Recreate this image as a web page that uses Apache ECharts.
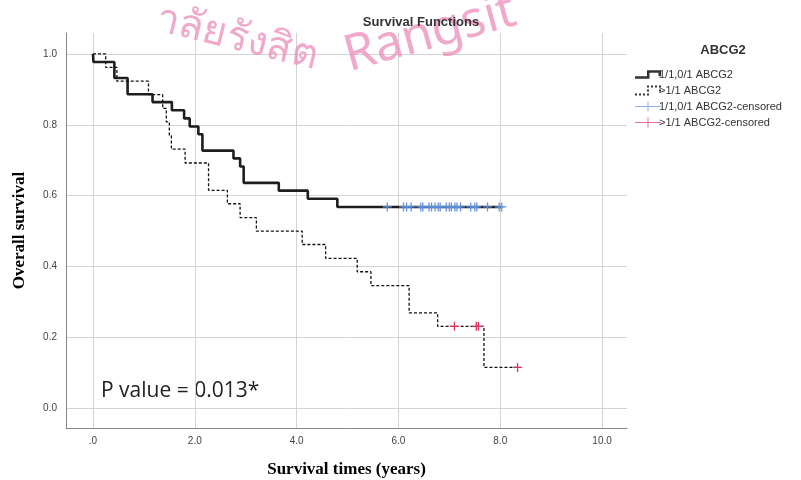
<!DOCTYPE html>
<html lang="en">
  <head>
    <meta charset="UTF-8">
    <title>Survival Functions</title>
    <style>
      html, body { margin: 0; padding: 0; background: #fff; }
      #chart { width: 801px; height: 480px; }
    </style>
  </head>
  <body>
    <div id="chart"></div>
  </body>
  <script src="https://cdn.jsdelivr.net/npm/echarts@6/dist/echarts.min.js"></script>
  <script>
    // 1/1,0/1 ABCG2 (solid)
    const timesA = [0, 0.01, 0.42, 0.68, 1.17, 1.55, 1.79, 1.90, 2.07, 2.15, 2.76, 2.89, 2.96, 3.65, 4.22, 4.80, 8.03]
    const survA = [1, 0.977, 0.932, 0.886, 0.864, 0.841, 0.818, 0.795, 0.773, 0.727, 0.705, 0.682, 0.636, 0.614, 0.591, 0.568, 0.568]
    const censorTimesA = [5.78, 6.10, 6.16, 6.25, 6.44, 6.48, 6.60, 6.65, 6.72, 6.78, 6.82, 6.94, 7.00, 7.04, 7.11, 7.15, 7.22, 7.42, 7.50, 7.54, 7.75, 7.98, 8.03]
    const censorSurvA = 0.568

    // >1/1 ABCG2 (dashed)
    const timesB = [0, 0.25, 0.47, 1.09, 1.37, 1.44, 1.50, 1.54, 1.81, 2.27, 2.64, 2.89, 3.21, 4.11, 4.57, 5.19, 5.46, 6.21, 6.77, 7.68, 8.34]
    const survB = [1, 0.962, 0.923, 0.885, 0.846, 0.808, 0.769, 0.731, 0.692, 0.615, 0.577, 0.538, 0.5, 0.462, 0.423, 0.385, 0.346, 0.269, 0.231, 0.115, 0.115]
    const censorTimesB = [7.10, 7.53, 7.57, 8.34]
    const censorSurvB = [0.231, 0.231, 0.231, 0.115]

    const xTicks = [0, 2, 4, 6, 8, 10]
    const yTicks = [0, 0.2, 0.4, 0.6, 0.8, 1.0]

    const names = ['1/1,0/1 ABCG2', '>1/1 ABCG2', '1/1,0/1 ABCG2-censored', '>1/1 ABCG2-censored']

    const cross = 'path://M4.3,0h1.4v10h-1.4zM0,4.3h10v1.4h-10z'
    const stepIcon = 'path://M0,7.5h12v-6h14v6h-2.5v-3.5h-9v6h-14.5z'
    const dotIcon = 'path://M0,8h2v2h-2zM4,8h2v2h-2zM8,8h2v2h-2zM12,8h2v2h-2zM12,4h2v2h-2zM12,0h2v2h-2zM16,0h2v2h-2zM20,0h2v2h-2zM24,0h2v2h-2zM24,4h2v2h-2z'
    const censorIcon = 'path://M0,4.5h26v1h-26zM12.5,0h1v10h-1z'

    const chart = echarts.init(document.getElementById('chart'))
    chart.setOption({
      animation: false,
      textStyle: { fontFamily: 'Liberation Sans, Arial, sans-serif' },
      title: [
        {
          text: 'Survival Functions',
          left: 416, top: 11, textAlign: 'center', z: 20,
          textStyle: { fontSize: 13, fontWeight: 'bold', color: '#333' }
        },
        {
          text: 'ABCG2',
          left: 718, top: 39, textAlign: 'center',
          textStyle: { fontSize: 13, fontWeight: 'bold', color: '#333' }
        }
      ],
      legend: {
        orient: 'vertical',
        left: 630, top: 64,
        itemWidth: 26, itemHeight: 10,
        itemGap: 5,
        textStyle: { fontSize: 11, color: '#333', padding: [0, 0, 0, -7] },
        itemStyle: { borderWidth: 0 },
        data: [
          { name: names[0], icon: stepIcon, itemStyle: { color: '#333' } },
          { name: names[1], icon: dotIcon, itemStyle: { color: '#333' } },
          { name: names[2], icon: censorIcon, itemStyle: { color: '#8fb4ea' } },
          { name: names[3], icon: censorIcon, itemStyle: { color: '#e0708f' } }
        ]
      },
      grid: { left: 66, right: 174, top: 33, bottom: 52, outerBoundsMode: 'none', containLabel: false },
      xAxis: {
        type: 'value',
        min: -0.53, max: 10.49,
        name: 'Survival times (years)',
        nameLocation: 'middle',
        nameGap: 33,
        nameTextStyle: { fontFamily: 'Liberation Serif', fontWeight: 'bold', fontSize: 17, color: '#000' },
        axisLine: { onZero: false, lineStyle: { color: '#888' } },
        axisTick: { show: false, customValues: xTicks },
        axisLabel: {
          customValues: xTicks,
          fontSize: 10, color: '#444', margin: 8,
          formatter: v => v === 0 ? '.0' : v.toFixed(1)
        },
        splitLine: { show: true, lineStyle: { color: '#d4d4d4' } }
      },
      yAxis: {
        type: 'value',
        min: -0.056, max: 1.059,
        name: 'Overall survival',
        nameLocation: 'middle',
        nameGap: 38,
        nameTextStyle: { fontFamily: 'Liberation Serif', fontWeight: 'bold', fontSize: 17, color: '#000' },
        axisLine: { show: true, onZero: false, lineStyle: { color: '#888' } },
        axisTick: { show: false, customValues: yTicks },
        axisLabel: {
          customValues: yTicks,
          fontSize: 10, color: '#444', margin: 9,
          formatter: v => v.toFixed(1)
        },
        splitLine: { show: true, lineStyle: { color: '#d4d4d4' } }
      },
      series: [
        {
          name: names[0],
          type: 'line',
          step: 'end',
          symbol: 'none',
          showSymbol: false,
          itemStyle: { color: '#333' },
          lineStyle: { color: '#1e1e1e', width: 2.6 },
          data: timesA.map((t, i) => [t, survA[i]]),
          z: 2
        },
        {
          name: names[1],
          type: 'line',
          step: 'end',
          symbol: 'none',
          showSymbol: false,
          itemStyle: { color: '#333' },
          lineStyle: { color: '#111', width: 1.3, type: [3, 2] },
          data: timesB.map((t, i) => [t, survB[i]]),
          z: 2
        },
        {
          name: names[2],
          type: 'scatter',
          symbol: cross,
          symbolSize: 9,
          itemStyle: { color: '#5f93e0', opacity: 1 },
          emphasis: { disabled: true },
          data: censorTimesA.map(t => [t, censorSurvA]),
          z: 10
        },
        {
          name: names[3],
          type: 'scatter',
          symbol: cross,
          symbolSize: 9,
          itemStyle: { color: '#e0305c', opacity: 1 },
          emphasis: { disabled: true },
          data: censorTimesB.map((t, i) => [t, censorSurvB[i]]),
          z: 10
        }
      ],
      graphic: [
        {
          type: 'text',
          left: 101, top: 381,
          style: { text: 'P value = 0.013*', font: '21px "Open Sans", sans-serif', fill: '#222' }
        },
        // watermark
        {
          type: 'text',
          x: 237, y: 38, rotation: -0.24,
          style: {
            text: 'าลัยรังสิต', font: '41px "Noto Sans", "DejaVu Sans", sans-serif',
            fill: 'rgba(236,140,185,0.75)', align: 'center', verticalAlign: 'middle'
          },
          z: 1
        },
        {
          type: 'text',
          x: 430, y: 34, rotation: 0.27,
          style: {
            text: 'Rangsit', font: '50px "Noto Sans", sans-serif',
            fill: 'rgba(236,140,185,0.75)', align: 'center', verticalAlign: 'middle'
          },
          z: 1
        }
      ]
    })
  </script>
</html>
